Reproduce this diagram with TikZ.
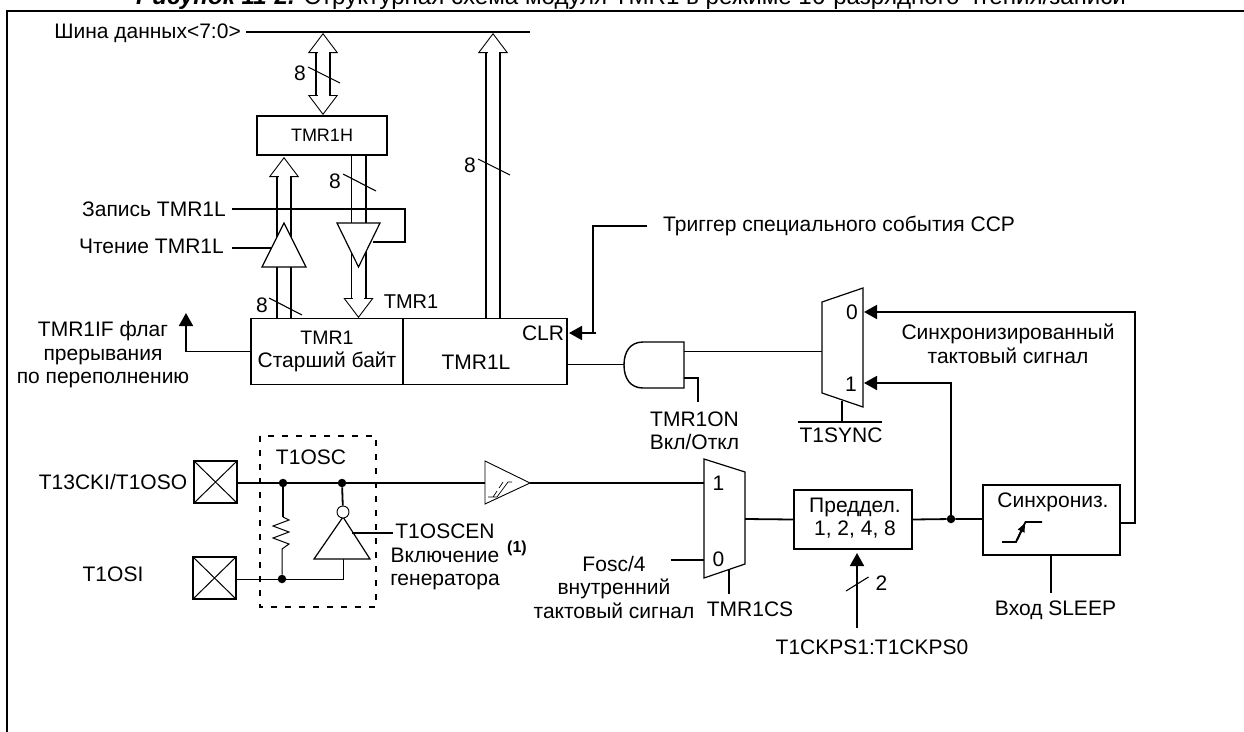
\documentclass[tikz,border=0pt]{standalone}
\usepackage{fontspec}
\setmainfont{Liberation Sans}
\usepackage{tikz}
\usetikzlibrary{arrows.meta,positioning,calc}

\begin{document}
\begin{tikzpicture}[
    x=1pt, y=-1pt,
    lbl/.style={inner sep=0pt, font=\fontsize{21}{23.5}\selectfont, align=center},
    block/.style={rectangle, draw, line width=1.9pt, inner sep=0pt, font=\fontsize{21}{23.5}\selectfont, align=center},
    wire/.style={line width=1.8pt},
    thinwire/.style={line width=1pt},
    gate/.style={line width=1.2pt, fill=white},
    tick/.style={line width=1.1pt},
    dot/.style={circle, fill=black, inner sep=0pt, minimum size=8.5pt},
    pad/.style={block, minimum width=43pt, minimum height=42pt,
        path picture={\draw[thinwire] (path picture bounding box.north west) -- (path picture bounding box.south east)
            (path picture bounding box.north east) -- (path picture bounding box.south west);}},
    tip/.style={-{Triangle[length=13pt, width=14pt]}},
    hollow/.tip={Triangle[length=20pt, width=30pt, line width=0.9pt, fill=white]},
    bus/.style={line width=1.8pt, double=white, double distance=12.4pt},
    upbus/.style={bus, -hollow, postaction={draw=white, -, line width=11pt, shorten >=19pt}},
    downbus/.style={bus, hollow-, postaction={draw=white, -, line width=11pt, shorten <=19pt}},
    bothbus/.style={bus, hollow-hollow, postaction={draw=white, -, line width=11pt, shorten <=19pt, shorten >=19pt}}
]
\useasboundingbox (0,0) rectangle (1244,731);

% Title
\node[anchor=base west, inner sep=0pt, font=\fontsize{24.1}{26}\selectfont] (title) at (136,4)
    {\textbf{\textit{Рисунок 11-2.}} Структурная схема модуля TMR1 в режиме 16-разрядного чтения/записи};
\draw[line width=2pt] (6.7,740) -- (6.7,10.5) -- (1250,10.5);

% Data bus
\node[lbl, anchor=east] (databus) at (241,33) {Шина данных<7:0>};
\coordinate (busend) at (530,32);
\draw[wire] (databus.east) ++(5,-1) -- (busend);

% Buses with width marks
\draw[bothbus] (323,33) -- (323,115);
\draw[tick] (308,67) -- (340,83);
\node[lbl] (w1) at (300,73) {8};
\draw[upbus] (493,319) -- (493,33);
\draw[tick] (478,159) -- (510,175);
\node[lbl] (w2) at (470,165) {8};
\draw[upbus] (284,319) -- (284,157);
\draw[tick] (269,298) -- (302,315);
\node[lbl] (w3) at (262,305) {8};
\draw[downbus] (358.5,318) -- (358.5,155);
\draw[tick] (343,174) -- (376,191);
\node[lbl] (w4) at (335,181) {8};

% Registers
\node[block, minimum width=130pt, minimum height=39pt, font=\fontsize{18}{20}\selectfont] (tmrh) at (322,135.5) {TMR1H};
\node[block, minimum width=152pt, minimum height=66pt] (hibyte) at (327,351.5) {{\fontsize{19.5}{23.5}\selectfont TMR1}\hspace{16pt}\\Старший байт};
\node[block, minimum width=164pt, minimum height=66pt] (lobyte) at (485,351.5) {};
\node[lbl] (lolabel) at (476,362) {TMR1L};
\node[lbl] (clrlabel) at (543,333) {CLR};
\node[lbl, font=\fontsize{20}{23.5}\selectfont] (tmrlabel) at (411,302) {TMR1};

% Read and write control
\node[lbl, anchor=east] (wrlabel) at (226,209) {Запись TMR1L};
\node[lbl, anchor=east] (rdlabel) at (224,246) {Чтение TMR1L};
\coordinate (wrside) at (373,242);
\coordinate (rdside) at (272,248);
\draw[wire] (232,209) -- (405,209) |- (wrside);
\draw[gate] (262,267) -- (284,223) -- (306,267) -- cycle;
\draw[gate] (337,223) -- (380,223) -- (358.5,267) -- cycle;
\draw[wire] (232,248) -- (rdside);

% Overflow flag
\coordinate (flagtip) at (186,313);
\draw[wire, tip] (hibyte.west) -| (flagtip);
\node[lbl] (flag) at (103,355) {TMR1IF флаг\\прерывания\\по переполнению};

% CCP trigger
\node[lbl, anchor=west] (ccp) at (663,226) {Триггер специального события CCP};
\coordinate (ccpend) at (647,226);
\coordinate (clrpin) at (569,333);
\draw[wire] (ccpend) -- (593,226) -- (593,333);
\draw[wire, tip] (596,333) -- (clrpin);

% AND gate
\coordinate (andin) at (624,364.5);
\coordinate (andout) at (684,351);
\coordinate (anden) at (684,378);
\draw[wire] (567,364.5) -- (andin);
\draw[line width=1.4pt] (684,342) -- (643,342) .. controls (630,342) and (624,352) .. (624,365)
    .. controls (624,378) and (630,388) .. (643,388) -- (684,388) -- cycle;
\draw[wire] (anden) -- (698,378) -- (698,402);
\node[lbl] (tmron) at (694.5,431) {TMR1ON\\Вкл/Откл};

% Sync select mux
\coordinate (muxa) at (822,302);
\coordinate (muxb) at (863,288);
\coordinate (muxc) at (863,407);
\coordinate (muxd) at (822,393);
\draw[thinwire] (andout) -- (822,351);
\draw[gate] (muxa) -- (muxb) -- (muxc) -- (muxd) -- cycle;
\node[lbl] (mza) at (852,312) {0};
\node[lbl] (mzb) at (851,384) {1};
\draw[wire] (842,401) -- (842,422);
\draw[wire] (798,422) -- (882,422);
\node[lbl] (tsync) at (841,435) {T1SYNC};
\node[lbl] (synclabel) at (1008,344) {Синхронизированный\\тактовый сигнал};

% Oscillator
\node[pad] (osco) at (215.5,482) {};
\node[pad] (osci) at (214.5,578) {};
\node[lbl] (oscolabel) at (113,482) {T13CKI/T1OSO};
\node[lbl] (oscilabel) at (113,574) {T1OSI};
\draw[line width=1.6pt, dash pattern=on 6pt off 8pt] (260,436) rectangle (376,607);
\node[lbl] (osclabel) at (311,457) {T1OSC};
\node[dot] (ja) at (283,483) {};
\node[dot] (jb) at (342,483) {};
\node[dot] (jc) at (282,579) {};
\coordinate (invbase) at (343,559);
\draw[thinwire] (osci.east |- jc) -- (jc) -- (343,579) -- (invbase);
\draw[wire] (ja) -- (283,517);
\draw[thinwire] (283,517) -- (289,520) -- (273,526) -- (289,532) -- (273,538) -- (289,544) -- (282,549) -- (jc);
\draw[gate] (314,559) -- (343,517) -- (370,559) -- cycle;
\node[circle, draw, line width=0.9pt, fill=white, minimum size=12pt, inner sep=0pt] (bubble) at (343,512) {};
\draw[wire] (jb) -- (bubble);
\coordinate (enside) at (352,533);
\draw[wire] (enside) -- (393,533);
\node[lbl] (oscen) at (445,557) {T1OSCEN\\Включение\\генератора};
\node[inner sep=0pt, font=\bfseries\fontsize{16}{18}\selectfont] (note) at (517,548) {(1)};

% Schmitt buffer
\coordinate (schmitt) at (485,483);
\draw[wire] (osco.east |- schmitt) -- (schmitt);
\draw[line width=0.9pt] (485,461) -- (530,483) -- (485,504) -- cycle;
\draw[line width=0.7pt] (488,497) -- (497,497) -- (508,482) -- (512,482)
    (497,491) -- (493,497) (503,482) -- (499,488);

% Clock select mux
\coordinate (ckinb) at (704,483);
\coordinate (ckina) at (704,560);
\draw[wire] (530,483) -- (ckinb);
\draw[wire] (670.5,560) -- (ckina);
\draw[gate] (704,459) -- (745,472) -- (745,564) -- (704,578) -- cycle;
\node[lbl] (mca) at (718.5,483) {1};
\node[lbl] (mcb) at (718.5,559) {0};
\draw[wire] (729,569) -- (729,594);
\node[lbl] (tcs) at (750,609) {TMR1CS};
\node[lbl] (fosc) at (614,587) {Fosc/4\\внутренний\\тактовый сигнал};

% Prescaler
\node[block, minimum width=118pt, minimum height=59pt] (presc) at (853,519.5) {};
\node[lbl] (psctext) at (855,518) {Преддел.\\1, 2, 4, 8};
\draw[wire] (745,519) -- (presc.west);
\coordinate (ckps) at (857,628);
\coordinate (psin) at (857,553);
\draw[wire, tip] (ckps) -- (psin);
\draw[tick] (846,591) -- (868.5,577);
\node[lbl] (psw) at (881.5,583) {2};
\node[lbl] (ckpslabel) at (872,647) {T1CKPS1:T1CKPS0};

% Synchronizer
\node[block, minimum width=137pt, minimum height=70pt] (sync) at (1051.5,520) {};
\node[lbl] (synctext) at (1053,502) {Синхрониз.};
\node[dot] (jd) at (951,519) {};
\draw[wire] (presc.east) -- (jd) -- (983,519);
\draw[wire, tip] (jd) -- (951,383) -- (864,383);
\draw[wire, tip] (1120,523) -- (1135,523) -- (1135,312) -- (864,312);
\draw[wire] (1002,542) -- (1016,542) -- (1025.5,522) -- (1042,522);
\draw[wire, -{Triangle[length=9pt, width=7pt]}] (1017,540) -- (1025,523);
\draw[wire] (1051,555) -- (1051,593);
\node[lbl] (sleep) at (1055.5,610) {Вход SLEEP};

\end{tikzpicture}
\end{document}
